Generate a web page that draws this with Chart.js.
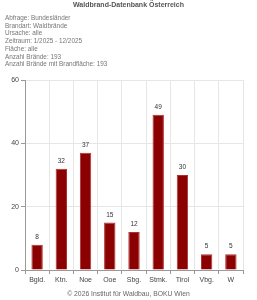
<!DOCTYPE html>
<html>
<head>
<meta charset="utf-8">
<script src="https://cdn.jsdelivr.net/npm/chart.js@4.4.1/dist/chart.umd.min.js"></script>
<style>
  body { margin: 0; background: #fff; }
  #wrap { position: relative; width: 257px; height: 300px; font-family: "Liberation Sans", Arial, sans-serif; color: #666; }
  #title { position: absolute; top: 1px; left: 0; width: 257px; text-align: center; font-size: 7px; font-weight: bold; color: #555; }
  #info { position: absolute; top: 14px; left: 5px; font-size: 6.4px; line-height: 7.7px; color: #777; }
  #foot { position: absolute; top: 290px; left: 0; width: 257px; text-align: center; font-size: 6.8px; color: #666; }
  canvas { position: absolute; top: 0; left: 0; }
</style>
</head>
<body>
<div id="wrap">
  <canvas id="chart" width="257" height="300"></canvas>
  <div id="title">Waldbrand-Datenbank Österreich</div>
  <div id="info">
    Abfrage: Bundesländer<br>
    Brandart: Waldbrände<br>
    Ursache: alle<br>
    Zeitraum: 1/2025 - 12/2025<br>
    Fläche: alle<br>
    Anzahl Brände: 193<br>
    Anzahl Brände mit Brandfläche: 193
  </div>
  <div id="foot">© 2026 Institut für Waldbau, BOKU Wien</div>
</div>
<script>
const labels = ['Bgld.', 'Ktn.', 'Noe', 'Ooe', 'Sbg.', 'Stmk.', 'Tirol', 'Vbg.', 'W'];
const fires = [8, 32, 37, 15, 12, 49, 30, 5, 5];
const yTicks = [0, 20, 40, 60];

const valueLabels = {
  id: 'valueLabels',
  afterDatasetsDraw(chart) {
    const c = chart.ctx;
    const meta = chart.getDatasetMeta(0);
    c.save();
    c.font = '6.5px "Liberation Sans", Arial, sans-serif';
    c.fillStyle = '#333';
    c.textAlign = 'center';
    c.textBaseline = 'middle';
    meta.data.forEach((bar, i) => {
      c.fillText(fires[i], bar.x, bar.y - 7.5);
    });
    c.restore();
  }
};

new Chart(document.getElementById('chart'), {
  type: 'bar',
  data: {
    labels: labels,
    datasets: [{
      data: fires,
      backgroundColor: '#8b0000',
      borderColor: '#b03030',
      borderWidth: 1,
      barPercentage: 0.47,
      categoryPercentage: 1
    }]
  },
  options: {
    responsive: false,
    animation: false,
    layout: { padding: { top: 80, left: 0, right: 14, bottom: 0 } },
    plugins: { legend: { display: false }, tooltip: { enabled: false } },
    scales: {
      x: {
        grid: { color: '#e6e6e6', offset: true, drawTicks: true, tickLength: 4, tickColor: '#999' },
        border: { color: '#999' },
        ticks: { color: '#444', font: { size: 7, family: '"Liberation Sans", Arial, sans-serif' }, padding: 2 },
        afterFit: s => { s.height = 30; }
      },
      y: {
        min: 0,
        max: 60,
        afterBuildTicks: s => { s.ticks = yTicks.map(v => ({ value: v })); },
        grid: { color: '#e6e6e6', tickLength: 4, tickColor: '#999' },
        border: { color: '#999' },
        ticks: { color: '#444', font: { size: 7, family: '"Liberation Sans", Arial, sans-serif' }, padding: 2 },
        afterFit: s => { s.width = 25; }
      }
    }
  },
  plugins: [valueLabels]
});
</script>
</body>
</html>
